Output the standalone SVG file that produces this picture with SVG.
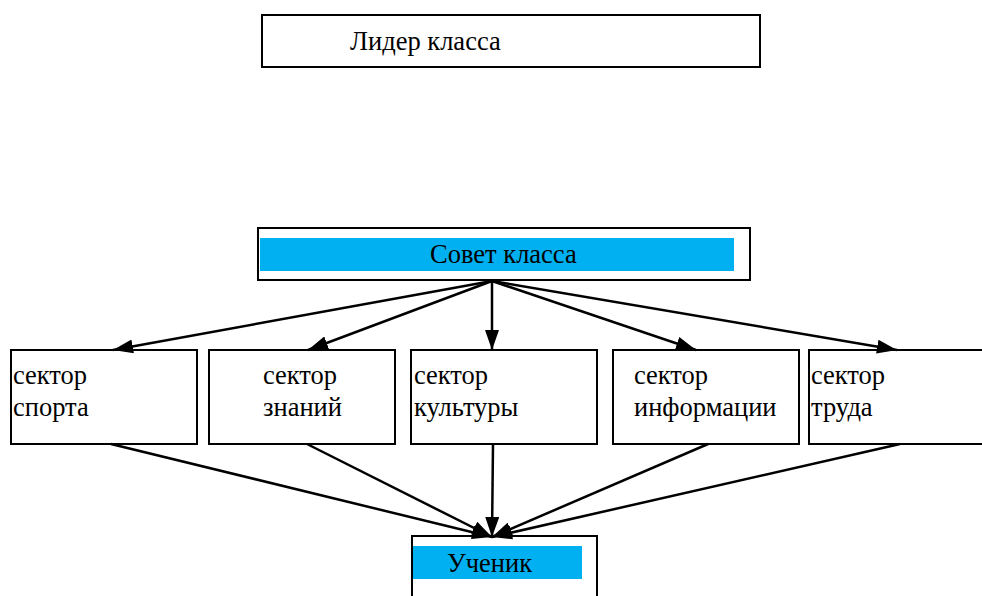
<svg xmlns="http://www.w3.org/2000/svg" width="982" height="596" viewBox="0 0 982 596">
<style>
.box{fill:#fff;stroke:#000;stroke-width:2}
.hl{fill:#00b0f0}
.t{font-family:"Liberation Serif","Times New Roman",serif;font-size:26.5px;fill:#000}
</style>
<defs>
<marker id="ah2" viewBox="0 0 20 14" refX="20" refY="7" markerWidth="20" markerHeight="14" orient="auto" markerUnits="userSpaceOnUse">
<path d="M0,0 L20,7 L0,14 Z" fill="#000"/>
</marker>
</defs>
<rect width="982" height="596" fill="#fff"/>
<g id="leader">
<rect class="box" x="262" y="15" width="498" height="52"/>
<text class="t" x="350" y="50">Лидер класса</text>
</g>
<g id="council">
<rect class="box" x="258" y="228" width="492" height="52"/>
<rect class="hl" x="260" y="238" width="474" height="33"/>
<text class="t" x="430" y="263">Совет класса</text>
</g>
<g id="sport">
<rect class="box" x="11" y="350" width="186" height="94"/>
<text class="t" x="13" y="384">сектор</text>
<text class="t" x="13" y="416">спорта</text>
</g>
<g id="knowledge">
<rect class="box" x="209" y="350" width="186" height="94"/>
<text class="t" x="263" y="384">сектор</text>
<text class="t" x="263" y="416">знаний</text>
</g>
<g id="culture">
<rect class="box" x="411" y="350" width="186" height="94"/>
<text class="t" x="414" y="384">сектор</text>
<text class="t" x="414" y="416">культуры</text>
</g>
<g id="information">
<rect class="box" x="613" y="350" width="186" height="94"/>
<text class="t" x="634" y="384">сектор</text>
<text class="t" x="634" y="416">информации</text>
</g>
<g id="labor">
<rect class="box" x="809" y="350" width="186" height="94"/>
<text class="t" x="811" y="384">сектор</text>
<text class="t" x="811" y="416">труда</text>
</g>
<g id="student">
<rect class="box" x="412" y="536" width="185" height="70"/>
<rect class="hl" x="413" y="546" width="169" height="33"/>
<text class="t" x="447" y="572">Ученик</text>
</g>
<g id="connectors" stroke="#000" stroke-width="2.5" fill="none">
<line x1="492" y1="281" x2="113" y2="350" marker-end="url(#ah2)"/>
<line x1="492" y1="281" x2="308" y2="350" marker-end="url(#ah2)"/>
<line x1="492" y1="281" x2="492" y2="350" marker-end="url(#ah2)"/>
<line x1="492" y1="281" x2="696" y2="350" marker-end="url(#ah2)"/>
<line x1="492" y1="281" x2="897" y2="350" marker-end="url(#ah2)"/>
<line x1="111" y1="444" x2="492" y2="537" marker-end="url(#ah2)"/>
<line x1="307" y1="444" x2="492" y2="537" marker-end="url(#ah2)"/>
<line x1="493" y1="444" x2="492" y2="537" marker-end="url(#ah2)"/>
<line x1="708" y1="444" x2="492" y2="537" marker-end="url(#ah2)"/>
<line x1="900" y1="444" x2="492" y2="537" marker-end="url(#ah2)"/>
</g>
</svg>
